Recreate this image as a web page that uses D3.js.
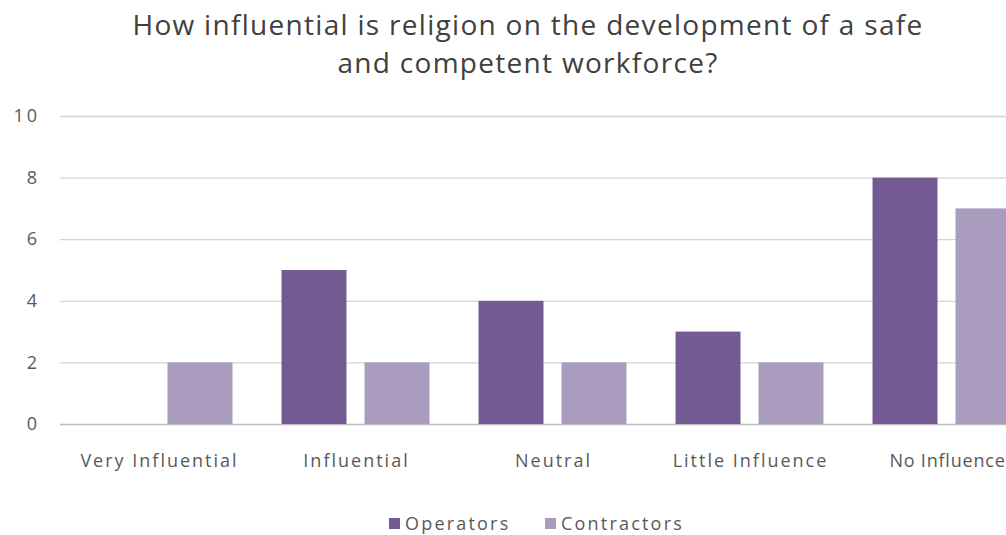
<!DOCTYPE html>
<html><head><meta charset="utf-8">
<script src="https://cdn.jsdelivr.net/npm/d3@7"></script>
<style>body{margin:0;background:#fff;overflow:hidden}svg{display:block}text{font-family:"Open Sans",sans-serif}</style>
</head><body>
<script>
const categories = ["Very Influential","Influential","Neutral","Little Influence","No Influence"];
const series = ["Operators","Contractors"];
const operators = [0,5,4,3,8];
const contractors = [2,2,2,2,7];
const yTicks = [0,2,4,6,8,10];
const titleLines = ["How influential is religion on the development of a safe","and competent workforce?"];
const colors = {Operators:"#735a93", Contractors:"#a99cbf"};

const W=1006,H=535;
const svg=d3.select("body").append("svg").attr("width",W).attr("height",H);
const x0=d3.scaleBand().domain(categories).range([60,1045]).paddingInner(0.249).paddingOuter(0.1245);
const x1=d3.scaleBand().domain(series).range([0,x0.bandwidth()]).paddingInner(0.217);
const y=d3.scaleLinear().domain([0,10]).range([424,116]);

svg.append("g").selectAll("line").data(yTicks).join("line")
  .attr("x1",60).attr("x2",W).attr("y1",d=>y(d)+0.5).attr("y2",d=>y(d)+0.5)
  .attr("stroke",d=>d===0?"#bdbdbd":"#d4d4d4").attr("stroke-width",1.3);

const yAxis=svg.append("g").attr("transform","translate(40,0)")
  .call(d3.axisLeft(y).tickValues(yTicks).tickSize(0).tickPadding(0));
yAxis.select(".domain").remove();
yAxis.selectAll("text").attr("font-size",18).attr("letter-spacing",3).attr("fill","#595959").attr("font-family","Open Sans");

const data=categories.map((c,i)=>({c,vals:[{s:"Operators",v:operators[i]},{s:"Contractors",v:contractors[i]}]}));
svg.append("g").selectAll("g").data(data).join("g")
  .attr("transform",d=>`translate(${x0(d.c)},0)`)
  .selectAll("rect").data(d=>d.vals).join("rect")
  .attr("x",d=>x1(d.s)).attr("width",x1.bandwidth())
  .attr("y",d=>y(d.v)).attr("height",d=>y(0)-y(d.v))
  .attr("fill",d=>colors[d.s]);

const xAxis=svg.append("g").attr("transform","translate(1,424)")
  .call(d3.axisBottom(x0).tickSize(0).tickPadding(30));
xAxis.select(".domain").remove();
xAxis.selectAll("text").attr("font-size",18)
  .attr("letter-spacing",(d,i)=>i===categories.length-1?0.8:2)
  .attr("fill","#595959").attr("font-family","Open Sans");

svg.append("g").selectAll("text").data(titleLines).join("text")
  .attr("x",528).attr("y",(d,i)=>35+i*38).attr("text-anchor","middle")
  .attr("font-size",28).attr("letter-spacing",1.3).attr("fill","#404040").text(d=>d);

const leg=svg.append("g");
const legX=[389,545];
series.forEach((s,i)=>{
  leg.append("rect").attr("x",legX[i]).attr("y",518).attr("width",11).attr("height",11).attr("fill",colors[s]);
  leg.append("text").attr("x",legX[i]+16).attr("y",530).attr("font-size",18).attr("letter-spacing",2.2).attr("fill","#595959").text(s);
});
</script>
</body></html>
